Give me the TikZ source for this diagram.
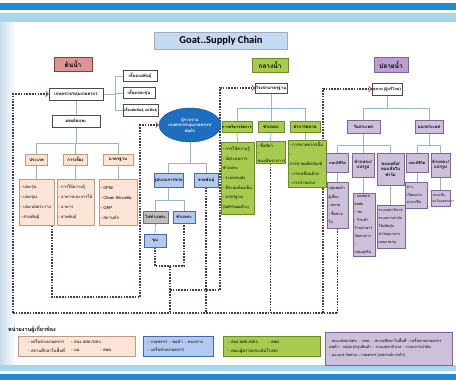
\documentclass[tikz,border=0pt]{standalone}
\usepackage{fontspec}
\usetikzlibrary{arrows.meta,shapes.geometric}
\newfontfamily\thai[Script=Thai]{Loma}
\newfontfamily\carl{Carlito}
\definecolor{dkband}{HTML}{1C8AD4}
\definecolor{ltband}{HTML}{A8D4EE}
\definecolor{sideblue}{HTML}{C9DDEC}
\definecolor{titlef}{HTML}{C5D9F1}
\definecolor{redh}{HTML}{D99694}
\definecolor{redd}{HTML}{953735}
\definecolor{peach}{HTML}{FBE4D5}
\definecolor{peachd}{HTML}{C09A80}
\definecolor{bluebox}{HTML}{B4C9EE}
\definecolor{blued}{HTML}{3E6BAF}
\definecolor{grayb}{HTML}{BFBFBF}
\definecolor{grayd}{HTML}{6F6F6F}
\definecolor{ellc}{HTML}{1E6EC0}
\definecolor{grn}{HTML}{A6CB4E}
\definecolor{grnd}{HTML}{6B8E23}
\definecolor{pur}{HTML}{CCC0DA}
\definecolor{purh}{HTML}{BC9ED3}
\definecolor{purd}{HTML}{7E649E}
\definecolor{tcol}{HTML}{93B9C8}
\definecolor{dcol}{HTML}{4A3A48}
\definecolor{acol}{HTML}{B94A6A}
\pgfdeclarelayer{back}
\pgfdeclarelayer{lines}
\pgfsetlayers{back,lines,main}
\begin{document}
\begin{tikzpicture}[x=1pt,y=-1pt,
  bx/.style={draw, line width=0.4pt, inner sep=0.5pt, align=center, text=black, font=\thai\bfseries\fontsize{4.3}{5.4}\selectfont},
  hd/.style={bx, font=\thai\bfseries\fontsize{6.5}{7}\selectfont, line width=0.6pt},
  wb/.style={bx, fill=white, draw=black!70},
  pe/.style={bx, fill=peach, draw=peachd},
  bl/.style={bx, fill=bluebox, draw=blued},
  gr/.style={bx, fill=grn, draw=grnd},
  pu/.style={bx, fill=pur, draw=purd},
  ls/.style={align=left, inner sep=1.5pt},
  lt/.style={anchor=west, inner sep=0pt, font=\thai\fontsize{4.2}{5}\selectfont},
  tl/.style={draw=tcol, line width=0.8pt},
  dl/.style={draw=dcol, line width=1.1pt, dash pattern=on 1.6pt off 1.2pt},
  ar/.style={-{Straight Barb[length=2.5pt,width=5pt,color=acol,line width=0.8pt]}}
]
\useasboundingbox (0,0) rectangle (456,380);
\begin{pgfonlayer}{back}
\fill[white] (0,0) rectangle (456,380);
\shade[left color=sideblue, right color=white] (0,22) rectangle (16,365);
\fill[dkband] (0,3) rectangle (456,10);
\fill[ltband] (0,13) rectangle (456,22);
\fill[ltband] (0,365) rectangle (456,371);
\fill[dkband] (0,374) rectangle (456,380);
\end{pgfonlayer}

% title and stage headers
\node[bx, fill=titlef, draw=titlef!80!black, line width=0.3pt, minimum width=133pt, minimum height=17pt, font=\carl\bfseries\fontsize{10.5}{12}\selectfont] (title) at (221,41) {Goat..Supply Chain};
\node[hd, fill=redh, draw=redd, minimum width=38pt, minimum height=14pt] (up) at (73,64) {ต้นน้ำ};
\node[hd, fill=grn, draw=grnd, minimum width=36pt, minimum height=14pt] (mid) at (270,65) {กลางน้ำ};
\node[hd, fill=purh, draw=purd, minimum width=34pt, minimum height=15pt] (down) at (391,65) {ปลายน้ำ};

% upstream
\node[wb, minimum width=54pt, minimum height=12pt] (farm) at (76,94) {เกษตรกร/กลุ่มเกษตรกร};
\node[wb, minimum width=34pt, minimum height=11pt] (r1) at (140,76) {เลี้ยงแม่พันธุ์};
\node[wb, minimum width=32pt, minimum height=11pt] (r2) at (139,93) {เลี้ยงแพะขุน};
\node[wb, minimum width=35pt, minimum height=12pt, font=\thai\bfseries\fontsize{3.7}{4.5}\selectfont] (r3) at (140.5,110.5) {เลี้ยงพ่อพันธุ์ แม่พันธุ์};
\node[wb, minimum width=48pt, minimum height=12pt] (prod) at (76,121) {ผลผลิตแพะ};
\node[pe, minimum width=22pt, minimum height=11pt] (h1) at (36.5,159.5) {ประเภท};
\node[pe, minimum width=24pt, minimum height=11pt] (h2) at (75.5,159.5) {การเลี้ยง};
\node[pe, minimum width=30pt, minimum height=11pt] (h3) at (118,159.5) {มาตรฐาน};
\node[pe, ls, text width=32pt, minimum height=46pt, font=\thai\fontsize{4.3}{10}\selectfont] (s1) at (36.5,202.5) {- แพะรุ่น\\- แพะขุน\\- แพะปลดระวาง\\- สายพันธุ์};
\node[pe, ls, text width=34pt, minimum height=46pt, font=\thai\fontsize{4.1}{10}\selectfont] (s2) at (75.5,202.5) {- การให้ความรู้\\- อาหารและการให้\\- อาหาร\\- สายพันธุ์};
\node[pe, ls, text width=35pt, minimum height=46pt, font=\thai\fontsize{4.3}{10}\selectfont] (s3) at (118,202.5) {- GFM\\- Clean Brucella\\- GAP\\- สถานกัก};

% collectors
\node[ellipse, fill=ellc, draw=ellc!80!black, minimum width=62pt, minimum height=34pt, inner sep=0pt, align=center, text=white, font=\thai\bfseries\fontsize{4.2}{5.6}\selectfont] (ell) at (190,125) {ผู้รวบรวม\\เกษตรกร/กลุ่มเกษตรกร/\\พ่อค้า};
\node[bl, minimum width=29pt, minimum height=14pt] (b1) at (168.5,180) {รูปแบบการขาย};
\node[bl, minimum width=24pt, minimum height=14pt] (b2) at (206,180) {ขายพันธุ์};
\node[bx, fill=grayb, draw=grayd, minimum width=25pt, minimum height=12pt] (b3) at (155.5,217) {ไม่ชำแหละ};
\node[bl, minimum width=22pt, minimum height=12pt] (b4) at (184,217) {ชำแหละ};
\node[bl, minimum width=22pt, minimum height=13pt] (b5) at (155,240.5) {ขุน};

% midstream
\node[wb, minimum width=32pt, minimum height=10pt] (slt) at (271,88) {โรงฆ่ามาตรฐาน};
\node[gr, minimum width=30pt, minimum height=11pt, font=\thai\bfseries\fontsize{3.9}{5}\selectfont] (g1) at (237,126.5) {การบริหารจัดการ};
\node[gr, minimum width=26pt, minimum height=11pt] (g2) at (271,126.5) {ชำแหละ};
\node[gr, minimum width=30pt, minimum height=11pt] (g3) at (305,126.5) {ทำการตลาด};
\node[gr, ls, text width=30pt, minimum height=72pt, font=\thai\fontsize{4.2}{9.6}\selectfont] (gs1) at (237.5,178) {- การให้ความรู้\\- จัดระบบการ\\ชำแหละ\\- ระบบขนส่ง\\- มีระบบห้องเย็น\\- มาตรฐาน\\{\fontsize{3.5}{4}\selectfont(GMP/Halal/อื่นๆ)}};
\node[gr, ls, text width=26pt, minimum height=21pt, font=\thai\fontsize{4.1}{7.5}\selectfont] (gs2) at (270.5,152.5) {- ซื้อสัตว์\\- ของเสียจากการ};
\node[gr, ls, text width=35pt, minimum height=47pt, font=\thai\fontsize{4.2}{9.5}\selectfont] (gs3) at (307,163.5) {- การขายซาก/เนื้อ\\- การขายผลิตภัณฑ์\\- การเคลื่อนย้าย\\- การจำหน่าย};

% downstream
\node[wb, minimum width=30pt, minimum height=12pt, font=\thai\bfseries\fontsize{3.9}{5}\selectfont] (mkt) at (387,89) {ตลาด (ผู้บริโภค)};
\node[pu, minimum width=33pt, minimum height=13pt] (dom) at (363.5,126.5) {ในประเทศ};
\node[pu, minimum width=28pt, minimum height=13pt] (ovs) at (429,126.5) {นอกประเทศ};
\node[pu, minimum width=22pt, minimum height=19pt, font=\thai\bfseries\fontsize{3.8}{5}\selectfont] (p1) at (337.5,162.5) {แพะมีชีวิต};
\node[pu, minimum width=22pt, minimum height=24pt] (p2) at (363,165) {ชำแหละ/\\แปรรูป};
\node[pu, minimum width=27pt, minimum height=32pt] (p3) at (390.5,169) {ของเหลือ/\\ของเสียใน\\ฟาร์ม};
\node[pu, minimum width=22pt, minimum height=19pt, font=\thai\bfseries\fontsize{3.8}{5}\selectfont] (p4) at (417,162.5) {แพะมีชีวิต};
\node[pu, minimum width=19pt, minimum height=24pt] (p5) at (440.5,165) {ชำแหละ/\\แปรรูป};
\node[pu, ls, text width=18pt, minimum height=46pt, font=\thai\fontsize{3.8}{8.5}\selectfont] (q1) at (337.5,205) {กลุ่มพ่อค้า\\ผู้เลี้ยง\\- ตลาด\\- ซื้อขาย\\ไป};
\node[pu, ls, text width=19pt, minimum height=59pt, font=\thai\fontsize{3.8}{8}\selectfont] (q2) at (364,224.5) {- modern\\trade\\- รพ.\\- ร้านค้า\\ร้านอาหาร\\ภัตตาคาร\\- กลุ่มมุสลิม};
\node[pu, ls, text width=25pt, minimum height=43pt, font=\thai\fontsize{3.6}{8}\selectfont] (q3) at (391,226.5) {ระบบสุขาภิบาล\\ระบบการบำบัด\\ใช้ผลิตปุ๋ย\\ทำวัสดุอาหาร\\ผสมแร่ธาตุ};
\node[pu, ls, text width=19pt, minimum height=26pt, font=\thai\fontsize{3.8}{7.5}\selectfont] (q4) at (416,195) {ลาว\\เวียดนาม\\มาเลเซีย};
\node[pu, ls, text width=16pt, minimum height=16pt, font=\thai\fontsize{3.3}{5.5}\selectfont] (q5) at (440.5,198) {มาเลเซีย\\ตะวันออกกลาง};

% legend
\node[anchor=west, inner sep=0pt, font=\thai\bfseries\fontsize{5.5}{6}\selectfont] (lgt) at (8,329) {หน่วยงานผู้เกี่ยวข้อง};
\node[bx, fill=peach, draw=peachd, minimum width=117pt, minimum height=20pt] (lg1) at (76.5,346) {};
\node[bx, fill=bluebox, draw=blued, minimum width=70pt, minimum height=20pt] (lg2) at (178,346) {};
\node[bx, fill=grn, draw=grnd, minimum width=97pt, minimum height=20pt] (lg3) at (271.5,346) {};
\node[bx, fill=pur, draw=purd, minimum width=127pt, minimum height=33pt] (lg4) at (388.5,348.5) {};
\node[lt] (t11) at (28,342) {- เครือข่ายเกษตรกร};
\node[lt] (t12) at (71,342) {- สนง.ปศส./ปศจ.};
\node[lt] (t13) at (28,350) {- สถานศึกษาในพื้นที่};
\node[lt] (t14) at (71,350) {- มอ.};
\node[lt] (t15) at (100,350) {- สพด.};
\node[lt] (t21) at (148,342) {- เกษตรกร\enspace - พ่อค้า\enspace - คนกลาง};
\node[lt] (t22) at (148,350) {- เครือข่ายเกษตรกร};
\node[lt] (t31) at (228,342) {- สนง.ปศส./ปศจ.};
\node[lt] (t32) at (268,342) {- สพด.};
\node[lt] (t33) at (228,351) {- คณะผู้ตรวจประเมินโรงฆ่า};
\node[lt, font=\thai\fontsize{3.9}{5}\selectfont] (t41) at (329,340) {- สนง.ปศส./ปศจ. - กพด. - สถานศึกษาในพื้นที่ - เครือข่ายเกษตรกร};
\node[lt, font=\thai\fontsize{3.9}{5}\selectfont] (t42) at (329,347.5) {พ่อค้า - กลุ่มแปรรูปสินค้า - ระบบสุขาภิบาล - ระบบการบำบัด};
\node[lt, font=\thai\fontsize{3.9}{5}\selectfont] (t43) at (329,355) {- มอ.ยะลา/พสวบ - เกษตรกร (สหกรณ์การค้า)};

% solid tree connectors
\begin{pgfonlayer}{lines}
\coordinate (jf) at (115,94);
\draw[tl] (farm.east) -- (jf);
\draw[tl] (r1.west) -| (jf);
\draw[tl] (r2.west) -| (jf);
\draw[tl] (r3.west) -| (jf);
\draw[tl] (farm.south) -- (prod.north);
\coordinate (jp) at (76,143);
\draw[tl] (prod.south) -- (jp);
\draw[tl] (h1.north) |- (jp);
\draw[tl] (h3.north) |- (jp);
\draw[tl] (h2.north) -- (h2.north |- jp);
\draw[tl] (h1.south) -- (s1.north);
\draw[tl] (h2.south) -- (s2.north);
\draw[tl] (h3.south) -- (s3.north);
\coordinate (je) at (190,163);
\draw[tl] (ell.south) -- (je);
\draw[tl] (b1.north) |- (je);
\draw[tl] (b2.north) |- (je);
\coordinate (jb) at (168.5,200);
\draw[tl] (b1.south) -- (jb);
\draw[tl] (b3.north) |- (jb);
\draw[tl] (b4.north) |- (jb);
\draw[tl] (b3.south) -- (b5.north);
\coordinate (jg) at (271,108);
\draw[tl] (slt.south) -- (jg);
\draw[tl] (g1.north) |- (jg);
\draw[tl] (g3.north) |- (jg);
\draw[tl] (g2.north) -- (g2.north |- jg);
\draw[tl] (g1.south) -- (gs1.north);
\draw[tl] (g2.south) -- (gs2.north);
\draw[tl] (g3.south) -- (g3.south |- gs3.north);
\coordinate (jm) at (387,108);
\draw[tl] (mkt.south) -- (jm);
\draw[tl] (dom.north) |- (jm);
\draw[tl] (ovs.north) |- (jm);
\coordinate (jd) at (363.5,145);
\draw[tl] (dom.south) -- (jd);
\draw[tl] (p1.north) |- (jd);
\draw[tl] (p3.north) |- (jd);
\draw[tl] (p2.north) -- (p2.north |- jd);
\coordinate (jo) at (429,145);
\draw[tl] (ovs.south) -- (jo);
\draw[tl] (p4.north) |- (jo);
\draw[tl] (p5.north) |- (jo);
\draw[tl] (p1.south) -- (q1.north);
\draw[tl] (p2.south) -- (p2.south |- q2.north);
\draw[tl] (p3.south) -- (p3.south |- q3.north);
\draw[tl] (p4.south) -- (p4.south |- q4.north);
\draw[tl] (p5.south) -- (p5.south |- q5.north);

% dotted flow lines
\coordinate (L1) at (13,313);
\coordinate (L2) at (337.5,313);
\draw[dl] (L1) -- (L2);
\draw[dl,ar] (L1) -- (farm.west -| L1) -- (farm.west);
\coordinate (c1) at (52,297);
\coordinate (c2) at (140,297);
\draw[dl,ar] (s1.south -| c1) -- (c1) -- (c2) -- (ell.west -| c2) -- (ell.west);
\coordinate (c3) at (155,266);
\coordinate (c4) at (184,266);
\draw[dl] (b5.south) -- (c3) -- (c4) -- (b4.south);
\coordinate (c5) at (170,266);
\coordinate (c6) at (170,290);
\coordinate (c7) at (220,290);
\draw[dl] (c5) -- (c5 |- L1);
\draw[dl,ar] (c6) -- (c7) -- (slt.west -| c7) -- (slt.west);
\draw[dl] (b2.south) -- (b2.south |- L1);
\draw[dl] (gs2.south) -- (gs2.south |- L1);
\coordinate (c8) at (323,313);
\draw[dl,ar] (c8) -- (mkt.west -| c8) -- (mkt.west);
\draw[dl] (q1.south) -- (L2);
\end{pgfonlayer}
\end{tikzpicture}
\end{document}
